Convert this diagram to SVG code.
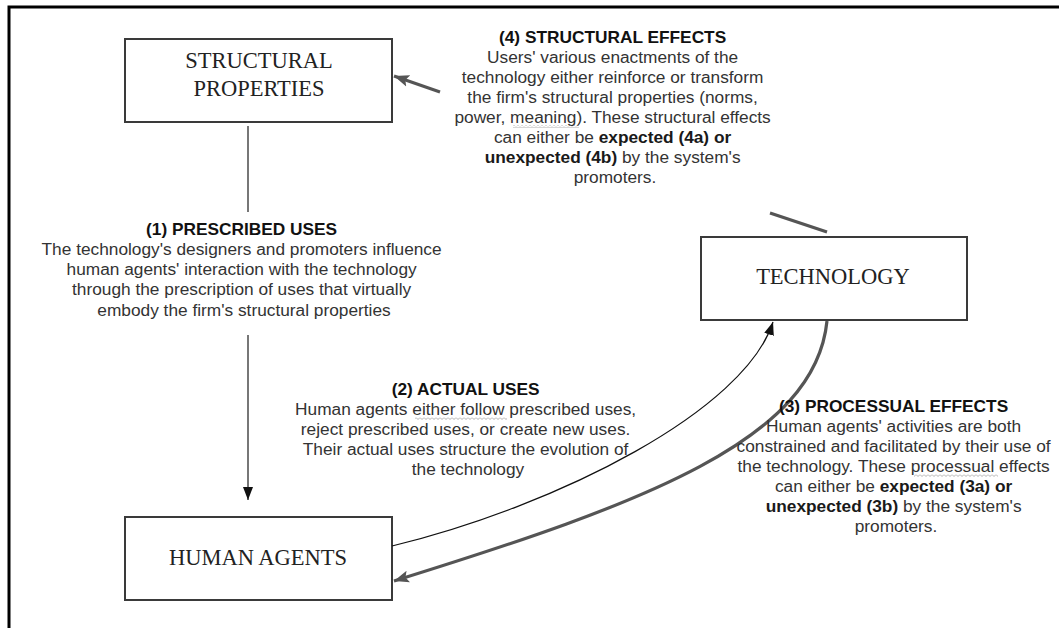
<svg xmlns="http://www.w3.org/2000/svg" width="1059" height="628" viewBox="0 0 1059 628">
  <style>
    .frame { fill: none; stroke: #000; stroke-width: 3; }
    .box { fill: #fff; stroke: #3a3a3a; stroke-width: 2; }
    .label { font-family: "Liberation Serif", "Times New Roman", serif; font-size: 22.5px; fill: #222; text-anchor: middle; }
    .note { font-family: "Liberation Sans", Arial, sans-serif; font-size: 17.3px; fill: #333; text-anchor: middle; }
    .title { font-weight: bold; fill: #111; }
    .b { font-weight: bold; fill: #1a1a1a; }
    .thin { fill: none; stroke: #111; stroke-width: 1.2; }
    .stem { fill: none; stroke: #777; stroke-width: 2; }
    .thick { fill: none; stroke: #555; stroke-width: 3.2; }
  </style>
  <defs>
    <marker id="head-thin" markerUnits="userSpaceOnUse" markerWidth="14" markerHeight="12" viewBox="0 0 14 12" refX="13" refY="6" orient="auto">
      <path d="M0,1 L13,6 L0,11 Z" fill="#111"/>
    </marker>
    <marker id="head-thick" markerUnits="userSpaceOnUse" markerWidth="16" markerHeight="14" viewBox="0 0 16 14" refX="15" refY="7" orient="auto">
      <path d="M0,1 L15,7 L0,13 L3,7 Z" fill="#555"/>
    </marker>
    <pattern id="squiggle" width="4" height="3" patternUnits="userSpaceOnUse">
      <path d="M0,0.5 L2,2.5 L4,0.5" fill="none" stroke="#9a9a9a" stroke-width="0.8"/>
    </pattern>
  </defs>

  <!-- page frame: top and left edges only -->
  <path class="frame" d="M9,628 L9,7 L1059,7"/>

  <g id="structural-properties">
    <rect class="box" x="125" y="39" width="267" height="83"/>
    <text class="label" x="259" y="68">STRUCTURAL</text>
    <text class="label" x="259" y="96">PROPERTIES</text>
  </g>

  <g id="technology">
    <rect class="box" x="701" y="237" width="266" height="83"/>
    <text class="label" x="833" y="284">TECHNOLOGY</text>
  </g>

  <g id="human-agents">
    <rect class="box" x="125" y="517" width="267" height="83"/>
    <text class="label" x="258" y="565">HUMAN AGENTS</text>
  </g>

  <g id="connectors">
    <!-- (1) prescribed uses: structural properties down to human agents -->
    <line class="stem" x1="248" y1="126" x2="248" y2="212"/>
    <line class="stem" x1="248" y1="335" x2="248" y2="500" marker-end="url(#head-thin)"/>
    <!-- (2) actual uses: human agents to technology -->
    <path class="thin" d="M392,546 C560,505 745,410 773,322" marker-end="url(#head-thin)"/>
    <!-- (3) processual effects: technology back to human agents -->
    <path class="thick" d="M827,321 C815,440 645,503 394,581" marker-end="url(#head-thick)"/>
    <!-- (4) structural effects: technology back to structural properties -->
    <line class="thick" x1="827" y1="232" x2="770" y2="213"/>
    <line class="thick" x1="440" y1="92" x2="394" y2="76" marker-end="url(#head-thick)"/>
  </g>

  <g id="note-structural-effects">
    <text class="note" x="615">
      <tspan class="title" x="615" y="43">(4) STRUCTURAL EFFECTS</tspan>
      <tspan x="615" y="63">Users' various enactments of the</tspan>
      <tspan x="615" y="83">technology either reinforce or transform</tspan>
      <tspan x="615" y="103">the firm's structural properties (norms,</tspan>
      <tspan x="615" y="123">power, meaning). These structural effects</tspan>
      <tspan x="615" y="143">can either be <tspan class="b">expected (4a) or</tspan></tspan>
      <tspan x="615" y="163"><tspan class="b">unexpected (4b)</tspan> by the system's</tspan>
      <tspan x="615" y="183">promoters.</tspan>
    </text>
    <rect x="513" y="125" width="66" height="3" fill="url(#squiggle)"/>
  </g>

  <g id="note-prescribed-uses">
    <text class="note" x="244">
      <tspan class="title" x="244" y="235">(1) PRESCRIBED USES</tspan>
      <tspan x="244" y="255">The technology's designers and promoters influence</tspan>
      <tspan x="244" y="275">human agents' interaction with the technology</tspan>
      <tspan x="244" y="295">through the prescription of uses that virtually</tspan>
      <tspan x="244" y="316">embody the firm's structural properties</tspan>
    </text>
  </g>

  <g id="note-actual-uses">
    <text class="note" x="468">
      <tspan class="title" x="468" y="395">(2) ACTUAL USES</tspan>
      <tspan x="468" y="415">Human agents either follow prescribed uses,</tspan>
      <tspan x="468" y="435">reject prescribed uses, or create new uses.</tspan>
      <tspan x="468" y="455">Their actual uses structure the evolution of</tspan>
      <tspan x="468" y="475">the technology</tspan>
    </text>
    <rect x="415" y="417" width="92" height="3" fill="url(#squiggle)"/>
  </g>

  <g id="note-processual-effects">
    <text class="note" x="896">
      <tspan class="title" x="896" y="412">(3) PROCESSUAL EFFECTS</tspan>
      <tspan x="896" y="432">Human agents' activities are both</tspan>
      <tspan x="896" y="452">constrained and facilitated by their use of</tspan>
      <tspan x="896" y="472">the technology. These processual effects</tspan>
      <tspan x="896" y="492">can either be <tspan class="b">expected (3a) or</tspan></tspan>
      <tspan x="896" y="512"><tspan class="b">unexpected (3b)</tspan> by the system's</tspan>
      <tspan x="896" y="532">promoters.</tspan>
    </text>
    <rect x="914" y="474" width="84" height="3" fill="url(#squiggle)"/>
  </g>
</svg>
